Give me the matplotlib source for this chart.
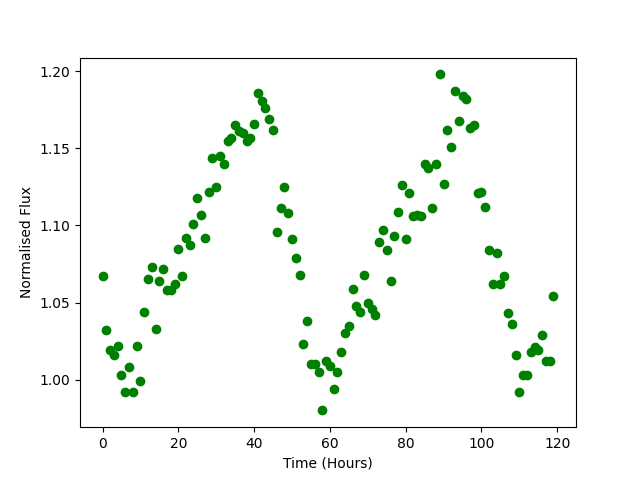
import matplotlib
matplotlib.use("Agg")
import matplotlib.pyplot as plt
import numpy as np

hours = list(range(120))
flux = [1.067, 1.032, 1.019, 1.016, 1.022, 1.003, 0.992, 1.008, 0.992, 1.022,
        0.999, 1.044, 1.065, 1.073, 1.033, 1.064, 1.072, 1.058, 1.058, 1.062,
        1.085, 1.067, 1.092, 1.087, 1.101, 1.118, 1.107, 1.092, 1.122, 1.144,
        1.125, 1.145, 1.140, 1.155, 1.157, 1.165, 1.161, 1.160, 1.155, 1.157,
        1.166, 1.186, 1.181, 1.176, 1.169, 1.162, 1.096, 1.111, 1.125, 1.108,
        1.091, 1.079, 1.068, 1.023, 1.038, 1.010, 1.010, 1.005, 0.980, 1.012,
        1.009, 0.994, 1.005, 1.018, 1.030, 1.035, 1.059, 1.048, 1.044, 1.068,
        1.050, 1.046, 1.042, 1.089, 1.097, 1.084, 1.064, 1.093, 1.109, 1.126,
        1.091, 1.121, 1.106, 1.107, 1.106, 1.140, 1.137, 1.111, 1.140, 1.198,
        1.127, 1.162, 1.151, 1.187, 1.168, 1.184, 1.182, 1.163, 1.165, 1.121,
        1.122, 1.112, 1.084, 1.062, 1.082, 1.062, 1.067, 1.043, 1.036, 1.016,
        0.992, 1.003, 1.003, 1.018, 1.021, 1.019, 1.029, 1.012, 1.012, 1.054]

fig, ax = plt.subplots(figsize=(6.4, 4.8), dpi=100)
ax.plot(hours, flux, 'o', color='green')
ax.set_xlabel('Time (Hours)')
ax.set_ylabel('Normalised Flux')
fig.savefig('out.png')
